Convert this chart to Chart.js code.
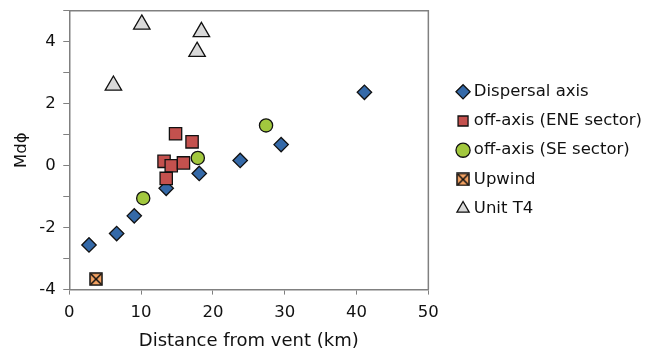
<!DOCTYPE html>
<html>
<head>
  <title>Md phi vs distance</title>
  <script src="https://cdn.jsdelivr.net/npm/chart.js"></script>
  <style>
    body { margin: 0; background: #fff; }
    #wrap { width: 646px; height: 352px; }
  </style>
</head>
<body>
  <div id="wrap"><canvas id="mdChart"></canvas></div>

  <script>
    // values: distance (km) and Md phi
    const axisKm = [2.75, 6.6, 9.05, 13.5, 18.1, 23.8, 29.5, 41.1];
    const axisMd = [-2.56, -2.19, -1.62, -0.73, -0.25, 0.17, 0.68, 2.37];

    const eneKm = [14.8, 17.1, 13.2, 14.2, 15.9, 13.5];
    const eneMd = [1.03, 0.77, 0.14, 0.0, 0.09, -0.41];

    const seKm = [10.3, 17.9, 27.4];
    const seMd = [-1.05, 0.25, 1.30];

    const upwindKm = [3.73];
    const upwindMd = [-3.66];

    const t4Km = [10.1, 18.4, 17.8, 6.15];
    const t4Md = [4.56, 4.32, 3.68, 2.59];

    const xTicks = [0, 10, 20, 30, 40, 50];
    const yLabels = [-4, -2, 0, 2, 4];

    function pts(xs, ys) {
      return xs.map((x, i) => ({ x: x, y: ys[i] }));
    }

    // square with a cross for the upwind sample
    function crossBox(size) {
      const c = document.createElement('canvas');
      c.width = size; c.height = size;
      const g = c.getContext('2d');
      g.fillStyle = '#f4a262';
      g.fillRect(1, 1, size - 2, size - 2);
      g.strokeStyle = '#111';
      g.lineWidth = 1.5;
      g.strokeRect(1, 1, size - 2, size - 2);
      g.beginPath();
      g.moveTo(2, 2); g.lineTo(size - 2, size - 2);
      g.moveTo(size - 2, 2); g.lineTo(2, size - 2);
      g.stroke();
      return c;
    }

    // frame round the plot area (top and right edges)
    const frame = {
      id: 'frame',
      afterDatasetsDraw(chart) {
        const a = chart.chartArea, ctx = chart.ctx;
        ctx.save();
        ctx.strokeStyle = '#808080';
        ctx.lineWidth = 1.5;
        ctx.beginPath();
        ctx.moveTo(a.left, a.top);
        ctx.lineTo(a.right, a.top);
        ctx.lineTo(a.right, a.bottom);
        ctx.stroke();
        ctx.restore();
      }
    };

    // the layout caps a side legend at a quarter of the width; let it take what it needs
    const roomyLegend = {
      id: 'roomyLegend',
      beforeLayout(chart) {
        const lg = chart.legend;
        if (!lg || lg._roomy) return;
        const update = lg.update.bind(lg);
        lg.update = function (maxW, maxH, margins) {
          update(400, maxH, margins);
          this.width -= 10;
        };
        lg._roomy = true;
      }
    };

    // no extra room above/below the plot for half tick labels
    function noPad(s) {
      s.paddingTop = 0;
      s.paddingBottom = 0;
    }

    const font = 'DejaVu Sans, Verdana, sans-serif';
    const edge = '#111';

    new Chart(document.getElementById('mdChart'), {
      type: 'scatter',
      data: {
        datasets: [
          { label: 'Dispersal axis', data: pts(axisKm, axisMd), order: 5,
            pointStyle: 'rectRot', radius: 7.2, backgroundColor: '#3469a8',
            borderColor: edge, borderWidth: 1.3 },
          { label: 'off-axis (ENE sector)', data: pts(eneKm, eneMd), order: 4,
            pointStyle: 'rect', radius: 8.7, backgroundColor: '#c4514e',
            borderColor: edge, borderWidth: 1.3 },
          { label: 'off-axis (SE sector)', data: pts(seKm, seMd), order: 3,
            pointStyle: 'circle', radius: 6.6, backgroundColor: '#a2c83e',
            borderColor: edge, borderWidth: 1.3 },
          { label: 'Upwind', data: pts(upwindKm, upwindMd), order: 2,
            pointStyle: crossBox(14), radius: 7, backgroundColor: '#f4a262',
            borderColor: edge, borderWidth: 1.3 },
          { label: 'Unit T4', data: pts(t4Km, t4Md), order: 1,
            pointStyle: 'triangle', radius: 9.5, backgroundColor: '#d9d9d9',
            borderColor: edge, borderWidth: 1.3 }
        ]
      },
      options: {
        responsive: true,
        maintainAspectRatio: false,
        animation: false,
        layout: { padding: { top: 10, right: 4, left: 12, bottom: 0 } },
        plugins: {
          tooltip: { enabled: false },
          legend: {
            position: 'right',
            fullSize: false,
            labels: {
              usePointStyle: true,
              boxHeight: 10,
              boxWidth: 5,
              padding: 12.7,
              color: '#111',
              font: { family: font, size: 16.5 },
              sort: (a, b) => a.datasetIndex - b.datasetIndex
            }
          }
        },
        scales: {
          x: {
            type: 'linear',
            min: 0, max: 50,
            afterBuildTicks: (s) => { s.ticks = xTicks.map(v => ({ value: v })); },
            grid: { display: true, drawOnChartArea: false, tickLength: 5, color: '#808080' },
            border: { color: '#808080', width: 1.5 },
            ticks: { color: '#111', font: { family: font, size: 16.5 }, padding: 8 },
            title: { display: true, text: 'Distance from vent (km)', color: '#111',
                     font: { family: font, size: 18 }, padding: { top: 0, bottom: 0 } }
          },
          y: {
            type: 'linear',
            min: -4, max: 5,
            afterFit: noPad,
            ticks: {
              stepSize: 1,
              color: '#111',
              font: { family: font, size: 16.5 },
              padding: 7.5,
              callback: (v) => yLabels.includes(v) ? String(v) : ''
            },
            grid: { display: true, drawOnChartArea: false, tickLength: 6, color: '#808080' },
            border: { color: '#808080', width: 1.5 },
            title: { display: true, text: 'Mdϕ', color: '#111',
                     font: { family: font, size: 16.5 }, padding: { top: 0, bottom: 0 } }
          },
          // empty strip between the plot frame and the legend
          gap: {
            type: 'linear',
            position: 'right',
            display: true,
            ticks: { display: false },
            grid: { display: false },
            border: { display: false },
            afterFit: (s) => { s.width = 19.5; noPad(s); }
          }
        }
      },
      plugins: [frame, roomyLegend]
    });
  </script>
</body>
</html>
